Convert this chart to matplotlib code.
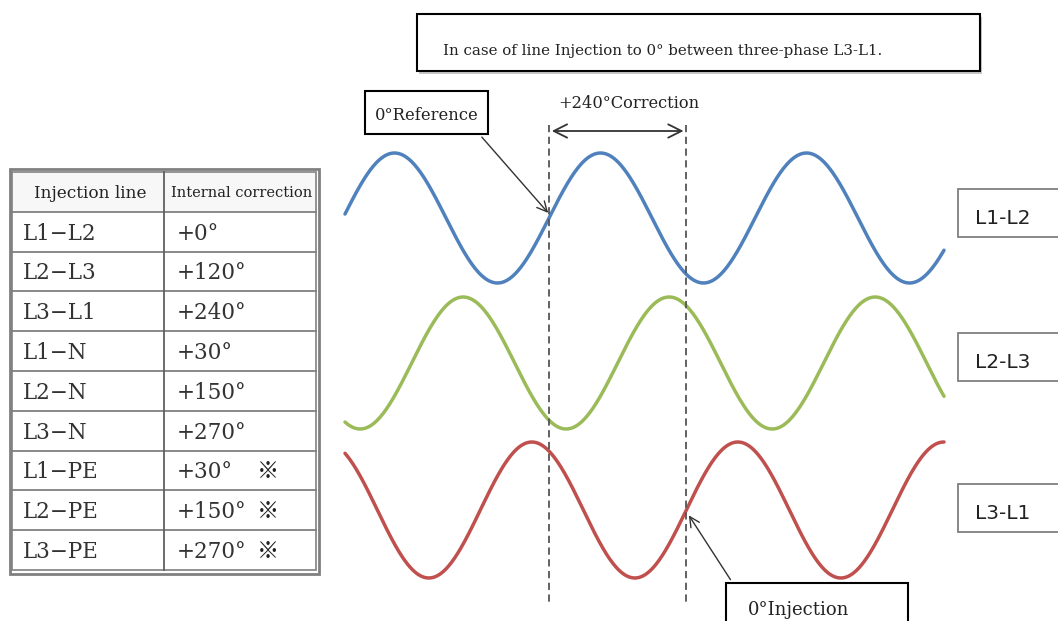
import numpy as np
import matplotlib
matplotlib.use("Agg")
import matplotlib.pyplot as plt
from matplotlib.patches import Rectangle

# table content
inj_lines = ["L1−L2", "L2−L3", "L3−L1", "L1−N", "L2−N", "L3−N",
             "L1−PE", "L2−PE", "L3−PE"]
corrections = ["+0°", "+120°", "+240°", "+30°", "+150°", "+270°",
               "+30°", "+150°", "+270°"]
pe_mark = [False, False, False, False, False, False, True, True, True]

# waveforms: phase lag in degrees
wave_names = ["L1-L2", "L2-L3", "L3-L1"]
wave_phase = [0, 120, 240]
wave_colors = ["#4f81bd", "#9bbb59", "#c0504d"]

SERIF = ["DejaVu Serif", "Noto Sans CJK JP"]
SANS = ["DejaVu Sans"]
TXT = "#222222"

fig = plt.figure(figsize=(10.58, 6.21), dpi=100)
ax = fig.add_axes([0, 0, 1, 1])
ax.set_xlim(0, 1058)
ax.set_ylim(621, 0)
ax.axis("off")

# ---- table ----
tx0, tx1, tmid = 12, 316, 164
ty0, row_h = 172, 39.8
n_rows = len(inj_lines) + 1
ty1 = ty0 + n_rows * row_h
ax.add_patch(Rectangle((9.5, 168.5), 309, ty1 - 168.5 + 3.5, fill=False,
                       ec="#808080", lw=2))
ax.add_patch(Rectangle((tx0, ty0), tx1 - tx0, ty1 - ty0, fill=False,
                       ec="#808080", lw=1.2))
ax.add_patch(Rectangle((tx0 + 1, ty0 + 1), tx1 - tx0 - 2, row_h - 2,
                       fc="#f7f7f7", ec="none"))
for i in range(1, n_rows):
    ax.plot([tx0, tx1], [ty0 + i * row_h] * 2, color="#808080", lw=1.3)
ax.plot([tmid, tmid], [ty0, ty1], color="#606060", lw=1.3)

ax.text((tx0 + tmid) / 2 + 2, ty0 + row_h / 2 + 2, "Injection line",
        family=SERIF, fontsize=12.2, ha="center", va="center", color=TXT)
ax.text((tmid + tx1) / 2 + 2, ty0 + row_h / 2 + 1, "Internal correction",
        family=SERIF, fontsize=10.5, ha="center", va="center", color=TXT)
for i, (ln, cr, pe) in enumerate(zip(inj_lines, corrections, pe_mark)):
    yb = ty0 + (i + 2) * row_h - 12
    ax.text(23, yb, ln, family=SERIF, fontsize=15.5, ha="left",
            va="baseline", color="#333333")
    ax.text(177, yb, cr, family=SERIF, fontsize=15.5, ha="left",
            va="baseline", color="#333333")
    if pe:
        ax.text(268, yb - 7, "※", family=["Noto Sans CJK JP"], fontsize=16,
                ha="center", va="center", color="#222222")

# ---- waves ----
x = np.linspace(345, 944, 800)
period = 206.0
x_ref = 549
centers = [218, 363, 510]
amps = [65, 66, 68]
theta = 2 * np.pi * (x - x_ref) / period
for ph, col, yc, a in zip(wave_phase, wave_colors, centers, amps):
    ax.plot(x, yc - a * np.sin(theta - np.deg2rad(ph)), color=col, lw=2.5,
            solid_capstyle="round")

# dashed reference lines
x_inj = x_ref + period * wave_phase[2] / 360
for xv in (x_ref, x_inj):
    ax.plot([xv, xv], [125, 605], color="#555555", lw=1.3, ls=(0, (4, 2.5)))

# correction arrow
ax.annotate("", xy=(x_ref, 131), xytext=(x_inj, 131),
            arrowprops=dict(arrowstyle="<->", color="#333333", lw=1.3,
                            mutation_scale=24))
ax.text(558, 108, "+240°Correction", family=SERIF, fontsize=11.7,
        ha="left", va="baseline", color=TXT)

# 0° Reference box
ax.add_patch(Rectangle((365, 91), 123, 43, fill=True, fc="white",
                       ec="black", lw=1.5))
ax.text(375, 120, "0°Reference", family=SERIF, fontsize=11.8,
        ha="left", va="baseline", color=TXT)
ax.annotate("", xy=(x_ref + 1, 215), xytext=(480, 135),
            arrowprops=dict(arrowstyle="->", color="#333333", lw=1.0,
                            mutation_scale=18))

# title box
ax.add_patch(Rectangle((419, 17), 563, 57, fc="#c8c8c8", ec="none"))
ax.add_patch(Rectangle((417, 14), 563, 57, fc="white", ec="black", lw=1.5))
ax.text(443, 55, "In case of line Injection to 0° between three-phase L3-L1.",
        family=SERIF, fontsize=10.8, ha="left", va="baseline", color=TXT)

# 0° Injection box
ax.add_patch(Rectangle((726, 583), 182, 60, fc="white", ec="black", lw=1.5))
ax.text(748, 615, "0°Injection", family=SERIF, fontsize=13, ha="left",
        va="baseline", color=TXT)
ax.annotate("", xy=(x_inj + 1, 513), xytext=(732, 582),
            arrowprops=dict(arrowstyle="->", color="#333333", lw=1.0,
                            mutation_scale=18))

# right-hand labels
label_y = [189, 333, 484]
for name, yb in zip(wave_names, label_y):
    ax.add_patch(Rectangle((958, yb), 110, 48, fc="white", ec="#7f7f7f",
                           lw=1.3))
    ax.text(975, yb + 35, name, family=SANS, fontsize=14.5, ha="left",
            va="baseline", color=TXT)

fig.savefig("out.png", dpi=100)
